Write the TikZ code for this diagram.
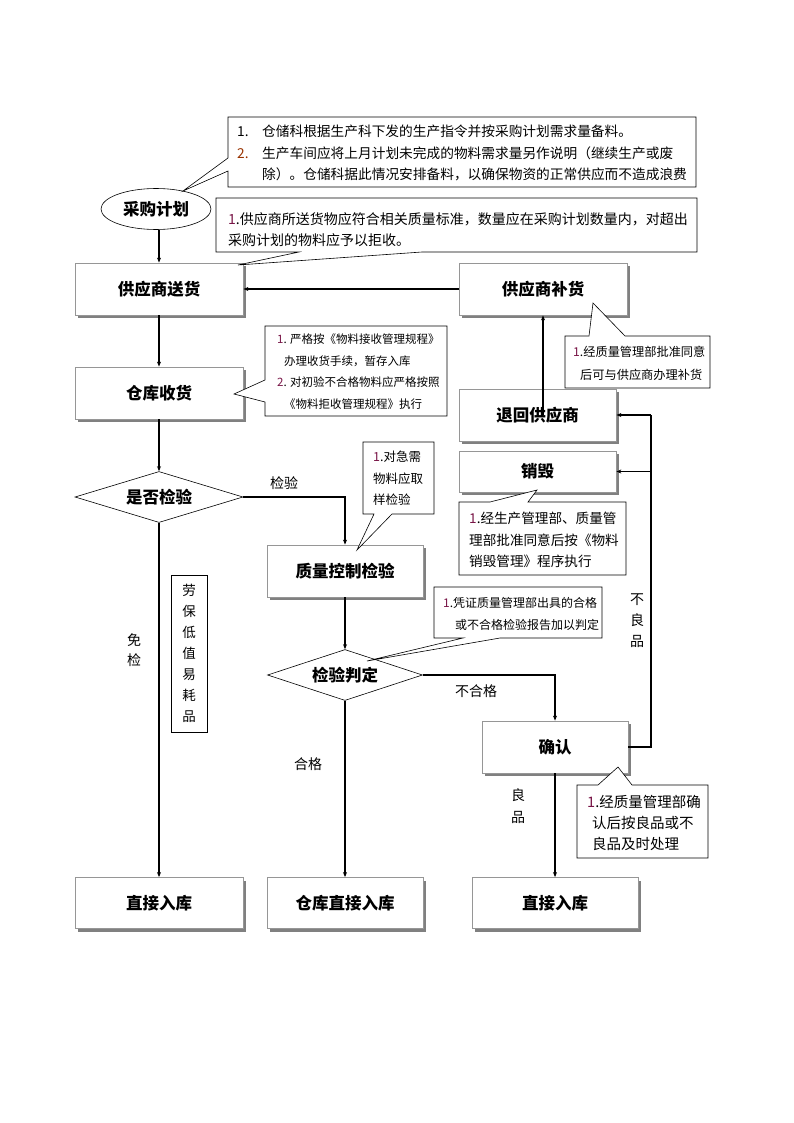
\documentclass[tikz,border=0pt]{standalone}
\usepackage{fontspec}
\setmainfont{Noto Sans CJK SC}
\usetikzlibrary{shapes.geometric,arrows.meta,shadows}
\definecolor{boxgray}{RGB}{150,150,150}
\definecolor{shgray}{RGB}{128,128,128}
\definecolor{numred}{RGB}{153,51,0}
\definecolor{numpur}{RGB}{120,20,70}
\begin{document}
\begin{tikzpicture}[x=1pt,y=-1pt,
  pbox/.style={draw=boxgray, fill=white, line width=0.8pt, inner sep=0pt,
    drop shadow={shadow xshift=3pt, shadow yshift=-3pt, fill=shgray, opacity=1},
    font=\fontsize{16.5}{18}\selectfont\bfseries},
  pdia/.style={diamond, draw=black, fill=white, line width=0.6pt, inner sep=0pt,
    font=\fontsize{16.5}{18}\selectfont\bfseries},
  pell/.style={ellipse, draw=black, fill=white, line width=0.6pt, inner sep=0pt,
    font=\fontsize{16.5}{18}\selectfont\bfseries},
  parrow/.style={line width=1.4pt, -{Stealth[length=5pt,width=4pt]}},
  pline/.style={line width=1.4pt},
  pcall/.style={draw=black, fill=white, line width=0.6pt},
  ptext/.style={inner sep=0pt, anchor=north west, align=left},
  plab/.style={inner sep=0pt, align=center, font=\fontsize{14}{20}\selectfont},
]
\path[use as bounding box, fill=white] (0,0) rectangle (794,1123);

% main nodes
\node[pell, minimum width=110pt, minimum height=41pt] (plan) at (156,209) {采购计划};
\node[pbox, minimum width=168pt, minimum height=52pt] (songhuo) at (159,289) {供应商送货};
\node[pbox, minimum width=168pt, minimum height=52pt] (buhuo) at (543,289) {供应商补货};
\node[pbox, minimum width=168pt, minimum height=52pt] (shouhuo) at (159,393) {仓库收货};
\node[pbox, minimum width=157pt, minimum height=52pt] (tuihui) at (537.5,415) {退回供应商};
\node[pbox, minimum width=157pt, minimum height=41pt] (xiaohui) at (537.5,471.5) {销毁};
\node[pdia, aspect=3.3, minimum width=168pt, minimum height=51pt] (jianyan) at (159,497) {是否检验};
\node[pbox, minimum width=156pt, minimum height=52pt] (zhikong) at (345,571) {质量控制检验};
\node[pdia, aspect=3.04, minimum width=155pt, minimum height=51pt] (panding) at (345,675) {检验判定};
\node[pbox, minimum width=146pt, minimum height=52pt] (queren) at (555,747) {确认};
\node[pbox, minimum width=168pt, minimum height=51pt] (ruku1) at (159,903) {直接入库};
\node[pbox, minimum width=156pt, minimum height=51pt] (ruku2) at (345,903) {仓库直接入库};
\node[pbox, minimum width=166pt, minimum height=51pt] (ruku3) at (555,903) {直接入库};
\node[draw=black, line width=0.6pt, minimum width=36pt, minimum height=157pt, inner sep=0pt,
  align=center, font=\fontsize{13.5}{21}\selectfont] (laobao) at (189,653.5)
  {劳\\保\\低\\值\\易\\耗\\品};

% connectors
\coordinate (rt) at (651,747);
\draw[parrow] (plan.south -| songhuo.north) -- (songhuo.north);
\draw[parrow] (buhuo.west) -- (songhuo.east);
\draw[parrow] (songhuo.south) -- (shouhuo.north);
\draw[parrow] (shouhuo.south) -- (jianyan.north);
\draw[parrow] (jianyan.east) -| (zhikong.north);
\draw[parrow] (jianyan.south) -- (ruku1.north);
\draw[parrow] (zhikong.south) -- (panding.north);
\draw[parrow] (panding.east) -| (queren.north);
\draw[parrow] (panding.south) -- (ruku2.north);
\draw[parrow] (queren.south) -- (ruku3.north);
\draw[pline] (queren.east) -- (rt) -- (rt |- tuihui.east);
\draw[parrow] (rt |- tuihui.east) -- (tuihui.east);
\draw[parrow] (rt |- xiaohui.east) -- (xiaohui.east);
\draw[parrow] (buhuo.south |- tuihui.center) -- (buhuo.south);

% edge labels
\node[plab] (l1) at (284,483) {检验};
\node[plab] (l2) at (134,650) {免\\检};
\node[plab] (l3) at (476,691) {不合格};
\node[plab] (l4) at (308,764) {合格};
\node[plab, font=\fontsize{14}{22}\selectfont] (l5) at (518,806) {良\\品};
\node[plab, font=\fontsize{14}{21}\selectfont] (l6) at (637,621) {不\\良\\品};

% callouts
\draw[pcall] (228,117) -- (696,117) -- (696,187) -- (228,187) -- (228,171) -- (183,191) -- (228,158) -- cycle;
\draw[pcall] (216,198) -- (697,198) -- (697,252) -- (422,252) -- (238,265) -- (299,252) -- (216,252) -- cycle;
\draw[pcall] (265,326) -- (447,326) -- (447,416) -- (265,416) -- (265,402) -- (234,394) -- (265,380) -- cycle;
\draw[pcall] (363,442) -- (434,442) -- (434,514) -- (392,514) -- (357,550) -- (374,514) -- (363,514) -- cycle;
\draw[pcall] (434,587) -- (602,587) -- (602,638) -- (500,638) -- (367,661) -- (463,638) -- (434,638) -- cycle;
\draw[pcall] (565,336) -- (589,336) -- (593,303) -- (625,336) -- (710,336) -- (710,388) -- (565,388) -- cycle;
\draw[pcall] (459,502) -- (490,502) -- (537,490) -- (528,502) -- (626,502) -- (626,575) -- (459,575) -- cycle;
\draw[pcall] (577,785) -- (598,785) -- (618,767) -- (632,785) -- (708,785) -- (708,858) -- (577,858) -- cycle;

\node[ptext, font=\fontsize{13.7}{21.5}\selectfont] (t1) at (237,125)
  {\makebox[25pt][l]{1.}仓储科根据生产科下发的生产指令并按采购计划需求量备料。\\
   \makebox[25pt][l]{\textcolor{numred}{2.}}生产车间应将上月计划未完成的物料需求量另作说明（继续生产或废\\
   \hspace*{25pt}除）。仓储科据此情况安排备料，以确保物资的正常供应而不造成浪费};
\node[ptext, font=\fontsize{14}{21}\selectfont] (t2) at (228,212)
  {\textcolor{numpur}{1}.供应商所送货物应符合相关质量标准，数量应在采购计划数量内，对超出\\
   采购计划的物料应予以拒收。};
\node[ptext, font=\fontsize{11.5}{21.5}\selectfont] (t3) at (277,334)
  {\textcolor{numpur}{1}. 严格按《物料接收管理规程》\\
   \hspace*{7pt}办理收货手续，暂存入库\\
   \textcolor{numpur}{2}. 对初验不合格物料应严格按照\\
   \hspace*{7pt}《物料拒收管理规程》执行};
\node[ptext, font=\fontsize{12.5}{21.5}\selectfont] (t4) at (373,451)
  {\textcolor{numpur}{1}.对急需\\物料应取\\样检验};
\node[ptext, font=\fontsize{12}{22}\selectfont] (t5) at (443,597)
  {\textcolor{numpur}{1}.凭证质量管理部出具的合格\\
   \hspace*{12pt}或不合格检验报告加以判定};
\node[ptext, font=\fontsize{12.2}{23}\selectfont] (t6) at (573,346)
  {\textcolor{numpur}{1}.经质量管理部批准同意\\
   \hspace*{7pt}后可与供应商办理补货};
\node[ptext, font=\fontsize{13.6}{21.5}\selectfont] (t7) at (469,512)
  {\textcolor{numpur}{1}.经生产管理部、质量管\\
   理部批准同意后按《物料\\
   销毁管理》程序执行};
\node[ptext, font=\fontsize{14.5}{21}\selectfont] (t8) at (587,795)
  {\textcolor{numpur}{1}.经质量管理部确\\
   \hspace*{5pt}认后按良品或不\\
   \hspace*{5pt}良品及时处理};
\end{tikzpicture}
\end{document}
